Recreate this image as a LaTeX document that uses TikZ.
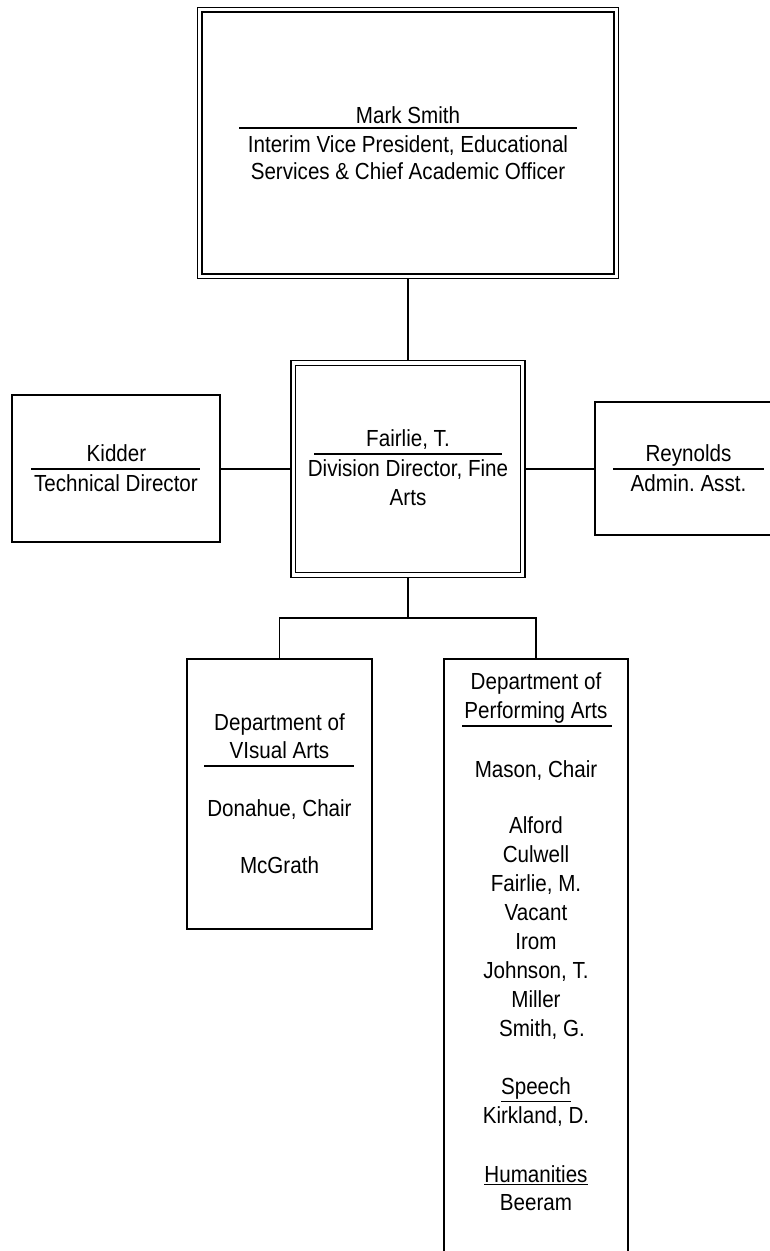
\documentclass[tikz,border=0pt]{standalone}
\usepackage{fontspec}
\setmainfont{Liberation Sans}
\frenchspacing
\newcommand{\vstretch}[1]{\scalebox{1}[1.13]{#1}}
\begin{document}
\begin{tikzpicture}[x=1pt,y=-1pt,
  box/.style={draw, line width=1.7pt, inner sep=0pt, outer sep=0.85pt},
  dbox/.style={draw, line width=1.5pt, double, double distance=3.3pt, inner sep=0pt, outer sep=3.15pt},
  txt/.style={anchor=base, inner sep=0pt, font=\fontsize{20.6}{29}\selectfont},
  rulel/.style={line width=1.6pt},
  conn/.style={line width=1.7pt}]
\clip (0,0) rectangle (770,1251);
% boxes
\node[dbox, minimum width=416.5pt, minimum height=266.5pt] (top) at (408,143) {};
\node[dbox, minimum width=229.5pt, minimum height=212pt] (mid) at (408,469) {};
\node[box, minimum width=208pt, minimum height=147pt] (kid) at (116,468.5) {};
\node[box, minimum width=188pt, minimum height=133pt] (rey) at (689,468.5) {};
\node[box, minimum width=185pt, minimum height=270pt] (vis) at (279.5,794) {};
\node[box, minimum width=184pt, minimum height=611pt] (per) at (536,964.5) {};
% connectors
\coordinate (j) at (408,618);
\draw[conn] (top.south) -- (mid.north);
\draw[conn] (mid.west) -- (kid.east |- mid.west);
\draw[conn] (mid.east) -- (rey.west |- mid.east);
\draw[conn] (mid.south) -- (j);
\draw[conn] (vis.north) |- (j) -| (per.north);
% top box text
\node[txt] (t1) at (408,123) {\vstretch{Mark Smith}};
\draw[rulel] (239,128) -- (577,128);
\node[txt] (t2) at (408,152.3) {\vstretch{Interim Vice President, Educational}};
\node[txt] (t3) at (408,179.8) {\vstretch{Services \& Chief Academic Officer}};
% middle
\node[txt] (m1) at (408,446.3) {\vstretch{Fairlie, T.}};
\draw[rulel] (314,454) -- (502,454);
\node[txt] (m2) at (408,476.8) {\vstretch{Division Director, Fine}};
\node[txt] (m3) at (408,505.6) {\vstretch{Arts}};
% Kidder
\node[txt] (k1) at (116.5,461.7) {\vstretch{Kidder}};
\draw[rulel] (31,469) -- (200,469);
\node[txt] (k2) at (116,491.7) {\vstretch{Technical Director}};
% Reynolds
\node[txt] (r1) at (688.5,461.7) {\vstretch{Reynolds}};
\draw[rulel] (613,469) -- (764,469);
\node[txt] (r2) at (688.5,491.7) {\vstretch{Admin. Asst.}};
% Visual arts
\node[txt] (v1) at (279.5,730.3) {\vstretch{Department of}};
\node[txt] (v2) at (279.5,758.6) {\vstretch{VIsual Arts}};
\draw[rulel] (204,765.7) -- (354,765.7);
\node[txt] (v3) at (279.5,816.3) {\vstretch{Donahue, Chair}};
\node[txt] (v4) at (279.5,873.6) {\vstretch{McGrath}};
% Performing arts
\node[txt] (p1) at (536,689.6) {\vstretch{Department of}};
\node[txt] (p2) at (536,718.6) {\vstretch{Performing Arts}};
\draw[rulel] (462,725.7) -- (612,725.7);
\node[txt] (p3) at (536,777) {\vstretch{Mason, Chair}};
\node[txt] (p4) at (536,833.6) {\vstretch{Alford}};
\node[txt] (p5) at (536,862.6) {\vstretch{Culwell}};
\node[txt] (p6) at (536,891.6) {\vstretch{Fairlie, M.}};
\node[txt] (p7) at (536,920.6) {\vstretch{Vacant}};
\node[txt] (p8) at (536,949.6) {\vstretch{Irom}};
\node[txt] (p9) at (536,978.6) {\vstretch{Johnson, T.}};
\node[txt] (p10) at (536,1007.6) {\vstretch{Miller}};
\node[txt] (p11) at (542,1036.6) {\vstretch{Smith, G.}};
\node[txt] (p12) at (536,1094.6) {\vstretch{\underline{Speech}}};
\node[txt] (p13) at (536,1123.6) {\vstretch{Kirkland, D.}};
\node[txt] (p14) at (536,1182) {\vstretch{\underline{Humanities}}};
\node[txt] (p15) at (536,1210.3) {\vstretch{Beeram}};
\end{tikzpicture}
\end{document}
